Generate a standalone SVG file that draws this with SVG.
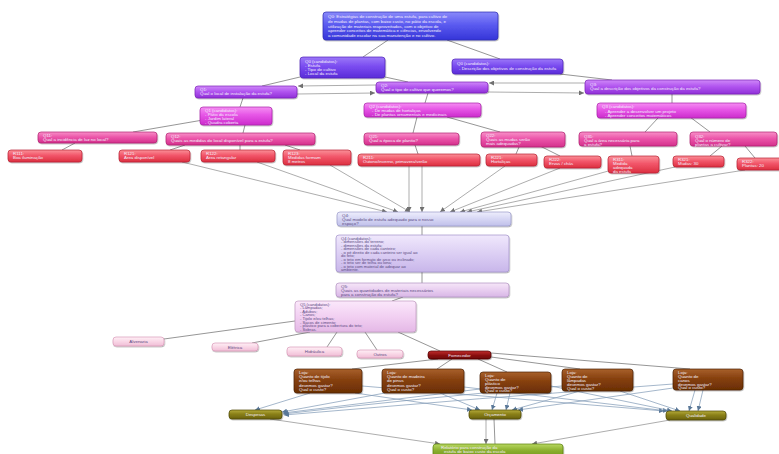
<svg xmlns="http://www.w3.org/2000/svg" width="779" height="454" viewBox="0 0 779 454">
<defs>
<linearGradient id="gBlue" x1="0" y1="0" x2="0" y2="1"><stop offset="0" stop-color="#8a8afa"/><stop offset="0.45" stop-color="#5b5bf0"/><stop offset="1" stop-color="#3434d8"/></linearGradient>
<linearGradient id="gViolet" x1="0" y1="0" x2="0" y2="1"><stop offset="0" stop-color="#9c78f8"/><stop offset="0.45" stop-color="#7a4cf0"/><stop offset="1" stop-color="#5a2cd8"/></linearGradient>
<linearGradient id="gPurple" x1="0" y1="0" x2="0" y2="1"><stop offset="0" stop-color="#cf88f8"/><stop offset="0.45" stop-color="#b256f0"/><stop offset="1" stop-color="#9030d8"/></linearGradient>
<linearGradient id="gMagenta" x1="0" y1="0" x2="0" y2="1"><stop offset="0" stop-color="#f58ef2"/><stop offset="0.45" stop-color="#e655e6"/><stop offset="1" stop-color="#cc2ccc"/></linearGradient>
<linearGradient id="gPink" x1="0" y1="0" x2="0" y2="1"><stop offset="0" stop-color="#f890c8"/><stop offset="0.45" stop-color="#ec56aa"/><stop offset="1" stop-color="#d4308c"/></linearGradient>
<linearGradient id="gRed" x1="0" y1="0" x2="0" y2="1"><stop offset="0" stop-color="#fa9098"/><stop offset="0.45" stop-color="#f2566a"/><stop offset="1" stop-color="#dc3040"/></linearGradient>
<linearGradient id="gLav" x1="0" y1="0" x2="0" y2="1"><stop offset="0" stop-color="#eeeefc"/><stop offset="0.5" stop-color="#d6d6f4"/><stop offset="1" stop-color="#c0c0ea"/></linearGradient>
<linearGradient id="gLav2" x1="0" y1="0" x2="0" y2="1"><stop offset="0" stop-color="#f0e8fc"/><stop offset="0.5" stop-color="#dccff4"/><stop offset="1" stop-color="#c8b6ea"/></linearGradient>
<linearGradient id="gPinkLav" x1="0" y1="0" x2="0" y2="1"><stop offset="0" stop-color="#f6e6f8"/><stop offset="0.5" stop-color="#e8cef0"/><stop offset="1" stop-color="#d8b6e6"/></linearGradient>
<linearGradient id="gLPink" x1="0" y1="0" x2="0" y2="1"><stop offset="0" stop-color="#fbe8fb"/><stop offset="0.5" stop-color="#f2d0f2"/><stop offset="1" stop-color="#e4b8e6"/></linearGradient>
<linearGradient id="gPale" x1="0" y1="0" x2="0" y2="1"><stop offset="0" stop-color="#fef0f6"/><stop offset="0.5" stop-color="#f9d6e6"/><stop offset="1" stop-color="#f0bed6"/></linearGradient>
<linearGradient id="gDRed" x1="0" y1="0" x2="0" y2="1"><stop offset="0" stop-color="#c03030"/><stop offset="0.5" stop-color="#8e0e0e"/><stop offset="1" stop-color="#6a0404"/></linearGradient>
<linearGradient id="gBrown" x1="0" y1="0" x2="0" y2="1"><stop offset="0" stop-color="#a8602c"/><stop offset="0.45" stop-color="#86400e"/><stop offset="1" stop-color="#6a2e04"/></linearGradient>
<linearGradient id="gOlive" x1="0" y1="0" x2="0" y2="1"><stop offset="0" stop-color="#b4aa3a"/><stop offset="0.45" stop-color="#8a8018"/><stop offset="1" stop-color="#6a620c"/></linearGradient>
<linearGradient id="gGreen" x1="0" y1="0" x2="0" y2="1"><stop offset="0" stop-color="#b8d860"/><stop offset="0.45" stop-color="#8cb030"/><stop offset="1" stop-color="#6e9418"/></linearGradient>
<marker id="ag" viewBox="0 0 10 10" refX="10" refY="5" markerWidth="5" markerHeight="5" markerUnits="userSpaceOnUse" orient="auto"><path d="M0,0 L10,5 L0,10 z" fill="#707070"/></marker>
<marker id="ab" viewBox="0 0 10 10" refX="10" refY="5" markerWidth="5" markerHeight="5" markerUnits="userSpaceOnUse" orient="auto"><path d="M0,0 L10,5 L0,10 z" fill="#5a7898"/></marker>
<filter id="sh" x="-10%" y="-20%" width="120%" height="160%"><feDropShadow dx="0.6" dy="1" stdDeviation="0.7" flood-color="#000" flood-opacity="0.3"/></filter>
</defs>
<style>
rect{filter:url(#sh);stroke-width:0.7}
text{font-family:"Liberation Sans",Arial,sans-serif;font-size:4.4px}
.w{fill:#f4eefc}
.d{fill:#5a4a82}
.c{text-anchor:middle}
.t{stroke:#8a8a8a;stroke-width:0.9;fill:none}
.a{stroke:#8a8a8a;stroke-width:0.7;fill:none;marker-end:url(#ag)}
.b{stroke:#7e98b4;stroke-width:0.7;fill:none;marker-end:url(#ab)}
.blue{fill:url(#gBlue);stroke:#2a2ab0}
.violet{fill:url(#gViolet);stroke:#4a20b8}
.purple{fill:url(#gPurple);stroke:#7a20b8}
.mag{fill:url(#gMagenta);stroke:#a820a8}
.pink{fill:url(#gPink);stroke:#b02070}
.red{fill:url(#gRed);stroke:#b82030}
.lav{fill:url(#gLav);stroke:#9898c8}
.lav2{fill:url(#gLav2);stroke:#a090c8}
.plav{fill:url(#gPinkLav);stroke:#b090c0}
.lpink{fill:url(#gLPink);stroke:#c098c0}
.pale{fill:url(#gPale);stroke:#d898b8}
.dred{fill:url(#gDRed);stroke:#500000}
.brown{fill:url(#gBrown);stroke:#4a2000}
.olive{fill:url(#gOlive);stroke:#4a4500}
.green{fill:url(#gGreen);stroke:#5a8010}
</style>

<g id="connectors">
<path class="t" d="M388,40 L363,57"/>
<path class="t" d="M447,40 L500,59"/>
<path class="t" d="M300,77 L262,86"/>
<path class="t" d="M385,77 L408,82"/>
<path class="t" d="M560,74 L612,80"/>
<path class="t" d="M243,98 L240,107"/>
<path class="t" d="M428,93 L425,103"/>
<path class="t" d="M672,94 L672,103"/>
<path class="t" d="M203,120 L133,132"/>
<path class="t" d="M245,125 L243,133"/>
<path class="t" d="M417,117 L413,133"/>
<path class="t" d="M447,117 L500,132"/>
<path class="t" d="M658,118 L645,132"/>
<path class="t" d="M690,117 L710,132"/>
<path class="t" d="M75,143 L62,150"/>
<path class="t" d="M185,145 L170,150"/>
<path class="t" d="M240,145 L240,150"/>
<path class="t" d="M285,145 L300,150"/>
<path class="t" d="M415,145 L418,154"/>
<path class="t" d="M519,147 L516,154"/>
<path class="t" d="M540,146 L560,156"/>
<path class="t" d="M630,146 L632,156"/>
<path class="t" d="M722,146 L710,156"/>
<path class="t" d="M745,146 L755,158"/>
<path class="a" d="M376,85 L298,86"/>
<path class="a" d="M297,94 L375,93"/>
<path class="a" d="M585,83 L489,83"/>
<path class="a" d="M488,92 L584,93"/>
<path class="a" d="M182,162 L387,212"/>
<path class="a" d="M257,162 L398,212"/>
<path class="a" d="M330,165 L410,212"/>
<path class="a" d="M409,166 L409,212"/>
<path class="a" d="M422,166 L422,212"/>
<path class="a" d="M505,166 L440,212"/>
<path class="a" d="M560,168 L450,212"/>
<path class="a" d="M612,170 L460,212"/>
<path class="a" d="M675,167 L467,212"/>
<path class="a" d="M745,170 L477,212"/>
<path class="t" d="M422,226 L422,235"/>
<path class="t" d="M422,272 L422,283"/>
<path class="t" d="M403,297 L392,301"/>
<path class="t" d="M295,321 L164,339"/>
<path class="t" d="M310,332 L252,343"/>
<path class="t" d="M337,332 L327,347"/>
<path class="t" d="M365,332 L377,350"/>
<path class="t" d="M398,332 L440,351"/>
<path class="t" d="M438,359 L352,369"/>
<path class="t" d="M452,359 L437,369"/>
<path class="t" d="M478,359 L507,372"/>
<path class="t" d="M491,357 L580,369"/>
<path class="t" d="M491,353 L690,369"/>
<path class="b" d="M310,393 L255,410"/>
<path class="b" d="M355,393 L472,410"/>
<path class="b" d="M362,386 L664,411"/>
<path class="b" d="M385,393 L282,412"/>
<path class="b" d="M440,393 L480,410"/>
<path class="b" d="M464,387 L668,411"/>
<path class="b" d="M480,389 L283,413"/>
<path class="b" d="M497,393 L492,410"/>
<path class="b" d="M510,393 L506,410"/>
<path class="b" d="M551,386 L672,411"/>
<path class="b" d="M562,386 Q420,398 283,414"/>
<path class="b" d="M580,391 L512,410"/>
<path class="b" d="M620,391 L680,411"/>
<path class="b" d="M673,384 Q480,398 284,415"/>
<path class="b" d="M673,388 L518,410"/>
<path class="b" d="M695,390 L689,411"/>
<path class="b" d="M703,390 L698,411"/>
<path class="a" d="M270,419 L440,444"/>
<path class="a" d="M486,419 L486,444"/>
<path class="t" d="M494,419 L495,444"/>
<path class="a" d="M670,420 L532,444"/>
</g>

<g id="q0"><rect class="blue" x="323" y="12" width="175" height="28" rx="3"/>
<text class="w" x="328" y="18"><tspan x="328">Q0: Estratégias de construção de uma estufa, para cultivo de</tspan><tspan x="328" dy="4.8">de mudas de plantas, com baixo custo, no pátio da escola, e</tspan><tspan x="328" dy="4.8">utilização de materiais reaproveitados, com o objetivo de</tspan><tspan x="328" dy="4.8">aprender conceitos de matemática e ciências, envolvendo</tspan><tspan x="328" dy="4.8">a comunidade escolar na sua manutenção e no cultivo.</tspan></text></g>
<g id="q0c1"><rect class="violet" x="300" y="57" width="85" height="21" rx="3"/>
<text class="w" x="305" y="62.5"><tspan x="305">Q0 (candidatos):</tspan><tspan x="305" dy="4.3">- Estufa</tspan><tspan x="305" dy="4.3">- Tipo de cultivo</tspan><tspan x="305" dy="4.3">- Local da estufa</tspan></text></g>
<g id="q0c2"><rect class="violet" x="452" y="59" width="111" height="15" rx="3"/>
<text class="w" x="457" y="65"><tspan x="457">Q0 (candidatos):</tspan><tspan x="459" dy="4.5">- Descrição dos objetivos de construção da estufa</tspan></text></g>
<g id="q1"><rect class="purple" x="195" y="86" width="102" height="12" rx="3"/>
<text class="w" x="200" y="91"><tspan x="200">Q1:</tspan><tspan x="200" dy="4.3">Qual o local de instalação da estufa?</tspan></text></g>
<g id="q2"><rect class="purple" x="376" y="82" width="112" height="11" rx="3"/>
<text class="w" x="381" y="86.8"><tspan x="381">Q2:</tspan><tspan x="381" dy="4.2">Qual o tipo de cultivo que queremos?</tspan></text></g>
<g id="q3"><rect class="purple" x="585" y="80" width="175" height="14" rx="3"/>
<text class="w" x="590" y="85.5"><tspan x="590">Q3:</tspan><tspan x="590" dy="4.5">Qual a descrição dos objetivos da construção da estufa?</tspan></text></g>
<g id="q1c"><rect class="mag" x="200" y="107" width="72" height="18" rx="3"/>
<text class="w" x="205" y="112"><tspan x="205">Q1 (candidatos):</tspan><tspan x="205" dy="3.9">- Pátio da escola</tspan><tspan x="205" dy="3.9">- Jardim lateral</tspan><tspan x="205" dy="3.9">- Quadra coberta</tspan></text></g>
<g id="q2c"><rect class="mag" x="364" y="103" width="117" height="14" rx="3"/>
<text class="w" x="369" y="108"><tspan x="369">Q2 (candidatos):</tspan><tspan x="372" dy="4">- De mudas de hortaliças</tspan><tspan x="372" dy="4">- De plantas ornamentais e medicinais</tspan></text></g>
<g id="q3c"><rect class="mag" x="597" y="103" width="149" height="15" rx="3"/>
<text class="w" x="602" y="108.3"><tspan x="602">Q3 (candidatos):</tspan><tspan x="605" dy="4.2">- Aprender a desenvolver um projeto</tspan><tspan x="605" dy="4.2">- Aprender conceitos matemáticos</tspan></text></g>
<g id="q11"><rect class="pink" x="38" y="132" width="119" height="11" rx="3"/>
<text class="w" x="43" y="136.8"><tspan x="43">Q11:</tspan><tspan x="43" dy="4.2">Qual a incidência de luz no local?</tspan></text></g>
<g id="q12"><rect class="pink" x="166" y="133" width="149" height="12" rx="3"/>
<text class="w" x="171" y="138"><tspan x="171">Q12:</tspan><tspan x="171" dy="4.3">Quais as medidas do local disponível para a estufa?</tspan></text></g>
<g id="q21"><rect class="pink" x="364" y="133" width="95" height="12" rx="3"/>
<text class="w" x="369" y="138"><tspan x="369">Q21:</tspan><tspan x="369" dy="4.3">Qual a época de plantio?</tspan></text></g>
<g id="q22"><rect class="pink" x="481" y="132" width="84" height="15" rx="3"/>
<text class="w" x="486" y="137"><tspan x="486">Q22:</tspan><tspan x="486" dy="4">Quais as mudas serão</tspan><tspan x="486" dy="4">mais adequadas?</tspan></text></g>
<g id="q31"><rect class="pink" x="579" y="132" width="98" height="14" rx="3"/>
<text class="w" x="584" y="137.5"><tspan x="584">Q31:</tspan><tspan x="584" dy="4.3">Qual a área necessária para</tspan><tspan x="584" dy="4.3">a estufa?</tspan></text></g>
<g id="q32"><rect class="pink" x="690" y="132" width="87" height="14" rx="3"/>
<text class="w" x="695" y="137.5"><tspan x="695">Q32:</tspan><tspan x="695" dy="4.3">Qual o número de</tspan><tspan x="695" dy="4.3">plantas a cultivar?</tspan></text></g>
<g id="r111"><rect class="red" x="8" y="150" width="74" height="12" rx="3"/>
<text class="w" x="13" y="155"><tspan x="13">R111:</tspan><tspan x="13" dy="4.3">Boa iluminação</tspan></text></g>
<g id="r121"><rect class="red" x="119" y="150" width="71" height="12" rx="3"/>
<text class="w" x="124" y="155"><tspan x="124">R121:</tspan><tspan x="124" dy="4.3">Área disponível</tspan></text></g>
<g id="r122"><rect class="red" x="201" y="150" width="74" height="12" rx="3"/>
<text class="w" x="206" y="155"><tspan x="206">R122:</tspan><tspan x="206" dy="4.3">Área retangular</tspan></text></g>
<g id="r123"><rect class="red" x="283" y="150" width="68" height="15" rx="3"/>
<text class="w" x="288" y="155"><tspan x="288">R123:</tspan><tspan x="288" dy="4">Medidas formam</tspan><tspan x="288" dy="4">8 metros</tspan></text></g>
<g id="r211"><rect class="red" x="358" y="154" width="122" height="12" rx="3"/>
<text class="w" x="363" y="159"><tspan x="363">R211:</tspan><tspan x="363" dy="4.3">Outono/inverno, primavera/verão</tspan></text></g>
<g id="r221"><rect class="red" x="486" y="154" width="51" height="12" rx="3"/>
<text class="w" x="491" y="159"><tspan x="491">R221:</tspan><tspan x="491" dy="4.3">Hortaliças</tspan></text></g>
<g id="r222"><rect class="red" x="544" y="156" width="57" height="12" rx="3"/>
<text class="w" x="549" y="161"><tspan x="549">R222:</tspan><tspan x="549" dy="4.3">Ervas / chás</tspan></text></g>
<g id="r311"><rect class="red" x="608" y="156" width="51" height="17" rx="3"/>
<text class="w" x="613" y="161"><tspan x="613">R311:</tspan><tspan x="613" dy="4">Medida</tspan><tspan x="613" dy="4">adequada</tspan><tspan x="613" dy="4">da estufa</tspan></text></g>
<g id="r321"><rect class="red" x="673" y="156" width="51" height="11" rx="3"/>
<text class="w" x="678" y="160.8"><tspan x="678">R321:</tspan><tspan x="678" dy="4.2">Mudas: 30</tspan></text></g>
<g id="r322"><rect class="red" x="737" y="158" width="46" height="12" rx="3"/>
<text class="w" x="742" y="163"><tspan x="742">R322:</tspan><tspan x="742" dy="4.3">Plantas: 20</tspan></text></g>
<g id="q4"><rect class="lav" x="337" y="212" width="174" height="14" rx="3"/>
<text class="d" x="342" y="216.8"><tspan x="342">Q4:</tspan><tspan x="342" dy="4.3">Qual modelo de estufa adequado para o nosso</tspan><tspan x="342" dy="4.3">espaço?</tspan></text></g>
<g id="q4c"><rect class="lav2" x="336" y="235" width="173" height="37" rx="3"/>
<text class="d" x="341" y="239.5" style="font-size:4.1px"><tspan x="341">Q4 (candidatos):</tspan><tspan x="341" dy="3.55">- dimensões do terreno;</tspan><tspan x="341" dy="3.55">- dimensões da estufa;</tspan><tspan x="341" dy="3.55">- dimensões de cada canteiro;</tspan><tspan x="341" dy="3.55">- o pé direito de cada canteiro ser igual ao</tspan><tspan x="341" dy="3.55">do teto;</tspan><tspan x="341" dy="3.55">- o teto em formato de arco ou inclinado;</tspan><tspan x="341" dy="3.55">- o teto ser de telha ou lona;</tspan><tspan x="341" dy="3.55">- o teto com material de adequar ao</tspan><tspan x="341" dy="3.55">ambiente.</tspan></text></g>
<g id="q5"><rect class="plav" x="336" y="283" width="173" height="14" rx="3"/>
<text class="d" x="341" y="287.8"><tspan x="341">Q5:</tspan><tspan x="341" dy="4.3">Quais as quantidades de materiais necessários</tspan><tspan x="341" dy="4.3">para a construção da estufa?</tspan></text></g>
<g id="q5c"><rect class="lpink" x="295" y="301" width="121" height="31" rx="3"/>
<text class="d" x="300" y="305.5" style="font-size:4.1px"><tspan x="300">Q5 (candidatos):</tspan><tspan x="300" dy="3.6">- Lâmpadas;</tspan><tspan x="300" dy="3.6">- Adubos;</tspan><tspan x="300" dy="3.6">- Canos;</tspan><tspan x="300" dy="3.6">- Tijolo e/ou telhas;</tspan><tspan x="300" dy="3.6">- Sacos de cimento;</tspan><tspan x="300" dy="3.6">- plástico para a cobertura do teto;</tspan><tspan x="300" dy="3.6">- Sobras.</tspan></text></g>
<g id="alvenaria"><rect class="pale" x="113" y="337" width="51" height="9" rx="3"/><text class="d c" x="138.5" y="343">Alvenaria</text></g>
<g id="eletrica"><rect class="pale" x="212" y="343" width="46" height="8" rx="3"/><text class="d c" x="235" y="348.6">Elétrica</text></g>
<g id="hidraulica"><rect class="pale" x="287" y="347" width="55" height="9" rx="3"/><text class="d c" x="314.5" y="353">Hidráulica</text></g>
<g id="outros"><rect class="pale" x="357" y="350" width="46" height="8" rx="3"/><text class="d c" x="380" y="355.6">Outros</text></g>
<g id="fornecedor"><rect class="dred" x="428" y="351" width="63" height="8" rx="3"/><text class="w c" x="459.5" y="356.6">Fornecedor</text></g>
<g id="b1"><rect class="brown" x="294" y="369" width="68" height="24" rx="3"/>
<text class="w" x="299" y="374"><tspan x="299">Loja:</tspan><tspan x="299" dy="4.2">Quanto de tijolo</tspan><tspan x="299" dy="4.2">e/ou telhas</tspan><tspan x="299" dy="4.2">devemos gastar?</tspan><tspan x="299" dy="4.2">Qual o custo?</tspan></text></g>
<g id="b2"><rect class="brown" x="382" y="369" width="82" height="24" rx="3"/>
<text class="w" x="387" y="374"><tspan x="387">Loja:</tspan><tspan x="387" dy="4.2">Quanto de madeira</tspan><tspan x="387" dy="4.2">de pinus</tspan><tspan x="387" dy="4.2">devemos gastar?</tspan><tspan x="387" dy="4.2">Qual o custo?</tspan></text></g>
<g id="b3"><rect class="brown" x="480" y="372" width="71" height="21" rx="3"/>
<text class="w" x="485" y="376.8"><tspan x="485">Loja:</tspan><tspan x="485" dy="3.9">Quanto de</tspan><tspan x="485" dy="3.9">plástico</tspan><tspan x="485" dy="3.9">devemos gastar?</tspan><tspan x="485" dy="3.9">Qual o custo?</tspan></text></g>
<g id="b4"><rect class="brown" x="562" y="369" width="71" height="22" rx="3"/>
<text class="w" x="567" y="374"><tspan x="567">Loja:</tspan><tspan x="567" dy="4">Quanto de</tspan><tspan x="567" dy="4">lâmpadas</tspan><tspan x="567" dy="4">devemos gastar?</tspan><tspan x="567" dy="4">Qual o custo?</tspan></text></g>
<g id="b5"><rect class="brown" x="673" y="369" width="70" height="21" rx="3"/>
<text class="w" x="678" y="373.8"><tspan x="678">Loja:</tspan><tspan x="678" dy="3.9">Quanto de</tspan><tspan x="678" dy="3.9">canos</tspan><tspan x="678" dy="3.9">devemos gastar?</tspan><tspan x="678" dy="3.9">Qual o custo?</tspan></text></g>
<g id="o1"><rect class="olive" x="229" y="410" width="53" height="9" rx="3"/><text class="w c" x="255.5" y="416">Despesas</text></g>
<g id="o2"><rect class="olive" x="469" y="410" width="52" height="9" rx="3"/><text class="w c" x="495" y="416">Orçamento</text></g>
<g id="o3"><rect class="olive" x="666" y="411" width="60" height="9" rx="3"/><text class="w c" x="696" y="417">Qualidade</text></g>
<g id="g1"><rect class="green" x="433" y="444" width="130" height="14" rx="3"/>
<text class="w" x="441" y="449"><tspan x="441">Relatório para construção da</tspan><tspan x="444" dy="4.3">estufa de baixo custo da escola</tspan></text></g>
</svg>
